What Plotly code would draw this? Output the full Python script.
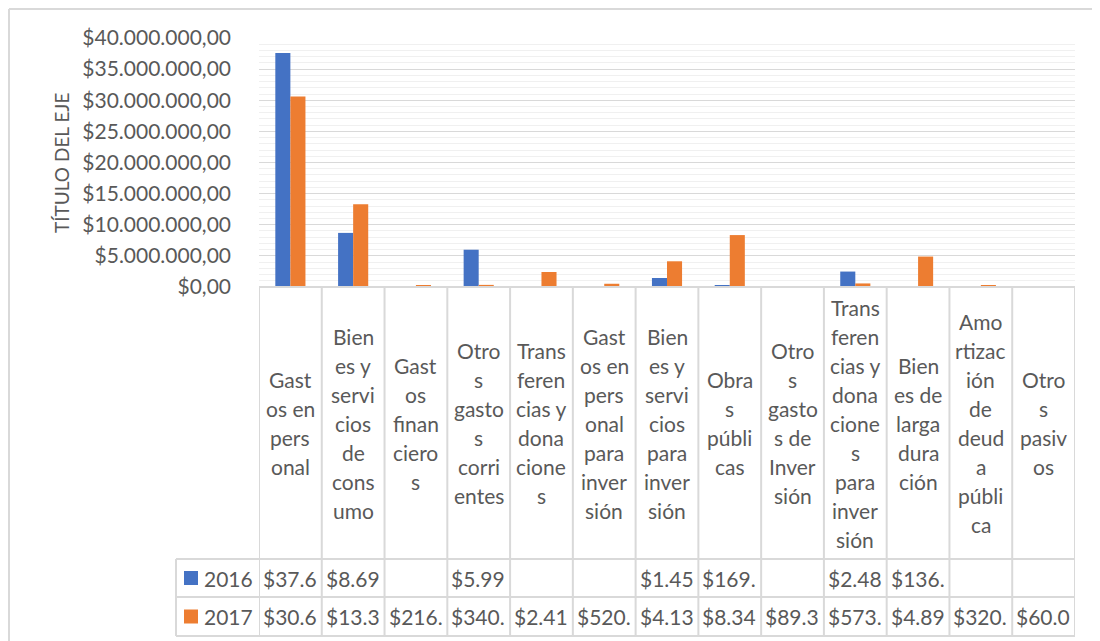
import plotly.graph_objects as go

# ---------------- data ----------------
categories = [
    "Gastos en personal", "Bienes y servicios de consumo", "Gastos financieros",
    "Otros gastos corrientes", "Transferencias y donaciones",
    "Gastos en personal para inversión", "Bienes y servicios para inversión",
    "Obras públicas", "Otros gastos de Inversión",
    "Transferencias y donaciones para inversión", "Bienes de larga duración",
    "Amortización de deuda pública", "Otros pasivos",
]
category_lines = [
    ["Gast", "os en", "pers", "onal"],
    ["Bien", "es y", "servi", "cios", "de", "cons", "umo"],
    ["Gast", "os", "finan", "ciero", "s"],
    ["Otro", "s", "gasto", "s", "corri", "entes"],
    ["Trans", "feren", "cias y", "dona", "cione", "s"],
    ["Gast", "os en", "pers", "onal", "para", "inver", "sión"],
    ["Bien", "es y", "servi", "cios", "para", "inver", "sión"],
    ["Obra", "s", "públi", "cas"],
    ["Otro", "s", "gasto", "s de", "Inver", "sión"],
    ["Trans", "feren", "cias y", "dona", "cione", "s", "para", "inver", "sión"],
    ["Bien", "es de", "larga", "dura", "ción"],
    ["Amo", "rtizac", "ión", "de", "deud", "a", "públi", "ca"],
    ["Otro", "s", "pasiv", "os"],
]
series_names = ["2016", "2017"]
values_2016 = [37_600_000, 8_690_000, None, 5_990_000, None, None, 1_450_000,
               169_000, None, 2_480_000, 136_000, None, None]
values_2017 = [30_600_000, 13_300_000, 216_000, 340_000, 2_410_000, 520_000,
               4_130_000, 8_340_000, 89_300, 573_000, 4_890_000, 320_000, 60_000]
colors = ["#4472C4", "#ED7D31"]
y_tick_values = [0, 5_000_000, 10_000_000, 15_000_000, 20_000_000,
                 25_000_000, 30_000_000, 35_000_000, 40_000_000]
axis_title = "TÍTULO DEL EJE"

# ---------------- layout geometry (page has an 8px body margin) ----------------
OFF = 8
W, H = 1100 - OFF, 641 - OFF
# target viewport positions of the plot area
VX0, VX1, VY0, VY1 = 259, 1075, 38, 287
L, T = VX0 - OFF, VY0 - OFF
R = W - (VX1 - OFF)
B = H - (VY1 - OFF)
PW, PH = VX1 - VX0, VY1 - VY0
FONT = "Lato, 'Open Sans', sans-serif"
TXT = "#595959"
GRID = "#d9d9d9"
FS = 21


def px_x(X):
    """viewport x -> paper x"""
    return (X - VX0) / PW


def px_y(Y):
    """viewport y -> paper y"""
    return (VY1 - Y) / PH


def fmt_money(v):
    s = f"{v:,.2f}"
    s = s.replace(",", "X").replace(".", ",").replace("X", ".")
    return "$" + s


fig = go.Figure()
for name, vals, col in zip(series_names, [values_2016, values_2017], colors):
    fig.add_bar(x=categories, y=vals, name=name, marker_color=col,
                marker_line_width=0)

shapes = []
annotations = []

row1_top, row2_top, table_bottom = 559, 597, 636
leg_left = 176
for Y in [VY1, row1_top, row2_top, table_bottom]:
    x0 = VX0 if Y == VY1 else leg_left
    shapes.append(dict(type="line", xref="paper", yref="paper",
                       x0=px_x(x0), x1=1, y0=px_y(Y), y1=px_y(Y),
                       line=dict(color=GRID, width=2)))
n = len(categories)
for i in range(n + 1):
    shapes.append(dict(type="line", xref="x", yref="paper",
                       x0=i - 0.5, x1=i - 0.5, y0=0, y1=px_y(table_bottom),
                       line=dict(color=GRID, width=2)))
shapes.append(dict(type="line", xref="paper", yref="paper",
                   x0=px_x(leg_left), x1=px_x(leg_left),
                   y0=px_y(row1_top), y1=px_y(table_bottom),
                   line=dict(color=GRID, width=2)))
# outer chart border
shapes.append(dict(type="line", xref="paper", yref="paper",
                   x0=px_x(9), x1=px_x(9), y0=px_y(9), y1=px_y(660),
                   line=dict(color=GRID, width=2)))
shapes.append(dict(type="line", xref="paper", yref="paper",
                   x0=px_x(9), x1=px_x(1120), y0=px_y(9), y1=px_y(9),
                   line=dict(color=GRID, width=2)))

# category labels
cell_center = (VY1 + row1_top) / 2
pitch = 29
for i, lines in enumerate(category_lines):
    k = len(lines)
    for j, ln in enumerate(lines):
        Y = cell_center + (j - (k - 1) / 2) * pitch
        annotations.append(dict(text=ln, xref="x", yref="paper", x=i,
                                y=px_y(Y), showarrow=False, xanchor="center",
                                yanchor="middle",
                                font=dict(family=FONT, size=FS, color=TXT)))

# legend + value rows
for r, (name, vals, col) in enumerate(zip(series_names, [values_2016, values_2017], colors)):
    top = [row1_top, row2_top][r]
    bot = [row2_top, table_bottom][r]
    cy = (top + bot) / 2
    shapes.append(dict(type="rect", xref="paper", yref="paper",
                       x0=px_x(184), x1=px_x(198), y0=px_y(cy - 7),
                       y1=px_y(cy + 7), fillcolor=col, line=dict(width=0)))
    annotations.append(dict(text=name, xref="paper", yref="paper",
                            x=px_x(202), y=px_y(cy), showarrow=False,
                            xanchor="left", yanchor="middle",
                            font=dict(family=FONT, size=FS, color=TXT)))
    for i, v in enumerate(vals):
        if v is None:
            continue
        annotations.append(dict(text=fmt_money(v)[:5], xref="x", yref="paper",
                                x=i - 0.5, xshift=2, y=px_y(cy),
                                showarrow=False, xanchor="left",
                                yanchor="middle",
                                font=dict(family=FONT, size=FS, color=TXT)))

annotations.append(dict(text=axis_title, xref="paper", yref="paper",
                        x=px_x(61), y=px_y(163), textangle=-90,
                        showarrow=False, xanchor="center", yanchor="middle",
                        font=dict(family=FONT, size=19, color=TXT)))

fig.update_layout(
    width=W, height=H,
    margin=dict(l=L, r=R, t=T, b=B, autoexpand=False),
    paper_bgcolor="white", plot_bgcolor="white",
    separators=",.",
    barmode="group", bargap=0.52, bargroupgap=0,
    showlegend=False,
    shapes=shapes, annotations=annotations,
    font=dict(family=FONT, color=TXT),
    xaxis=dict(type="category", range=[-0.5, n - 0.5], showticklabels=False,
               showgrid=False, zeroline=False, showline=False, ticks=""),
    yaxis=dict(range=[0, 40_000_000], tickvals=y_tick_values,
               tickformat="$,.2f", showgrid=True, gridcolor=GRID, gridwidth=1,
               minor=dict(dtick=1_000_000, showgrid=True, gridcolor="#f0f0f0",
                          gridwidth=1),
               zeroline=False, showline=False, ticks="",
               ticklabelstandoff=27,
               tickfont=dict(family=FONT, size=FS, color=TXT)),
)

fig.write_html("out.html")
